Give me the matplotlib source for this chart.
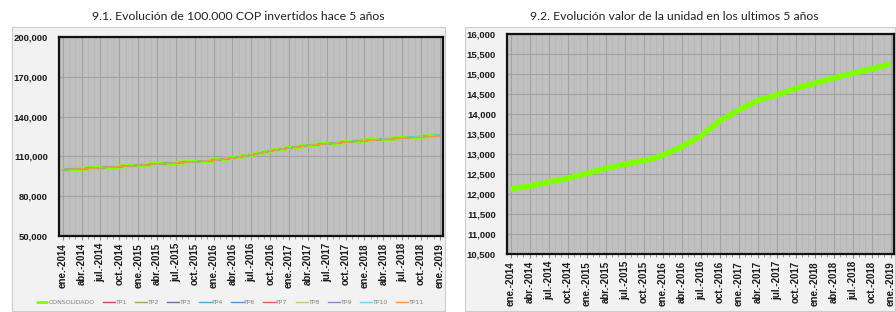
import matplotlib
matplotlib.use('Agg')
from matplotlib import pyplot as plt
from matplotlib.patches import Rectangle
from matplotlib.ticker import FuncFormatter, MultipleLocator

# etiquetas trimestrales del eje x
tick_labels = ['ene.-2014', 'abr.-2014', 'jul.-2014', 'oct.-2014',
               'ene.-2015', 'abr.-2015', 'jul.-2015', 'oct.-2015',
               'ene.-2016', 'abr.-2016', 'jul.-2016', 'oct.-2016',
               'ene.-2017', 'abr.-2017', 'jul.-2017', 'oct.-2017',
               'ene.-2018', 'abr.-2018', 'jul.-2018', 'oct.-2018',
               'ene.-2019']

# 9.1 - valor de 100.000 COP (mensual, ene-2014 .. ene-2019)
consolidado = [100000, 100250, 100450, 100660, 100950, 101200, 101490, 101730, 101980, 102270, 102600, 102930,
               103260, 103630, 103960, 104290, 104580, 104870, 105160, 105400, 105650, 105900, 106190, 106560,
               107010, 107590, 108170, 108750, 109490, 110230, 110970, 112050, 113040, 114110, 114850, 115590,
               116340, 117000, 117660, 118320, 118730, 119060, 119470, 119880, 120340, 120790, 121160, 121490,
               121860, 122240, 122610, 122940, 123270, 123600, 123930, 124220, 124550, 124830, 125160, 125500,
               125820]

# portafolios TP (trimestral)
tp_base = [100000, 100660, 101490, 102270, 103260, 104290, 105160, 105900, 107010, 108750, 110970,
           114110, 116340, 118320, 119470, 120790, 121860, 122940, 123930, 124830, 125820]
tp_alto = [100000, 100660, 101490, 102270, 103260, 104290, 105160, 105900, 107010, 108750, 110970,
           114110, 116340, 118320, 119470, 120850, 121950, 123050, 124100, 125100, 126300]
tp11 = [100000, 100660, 101490, 102270, 103260, 104290, 105160, 105900, 107010, 108750, 110970,
        114110, 116340, 118320, 119470, 120700, 121750, 122750, 123700, 124500, 125200]

tp_nombres = ['TP1', 'TP2', 'TP3', 'TP4', 'TP6', 'TP7', 'TP8', 'TP9', 'TP10', 'TP11']
tp_colores = ['#c0504d', '#8eac5a', '#8064a2', '#4bacc6', '#5b8fd6', '#e0605a', '#b3d27a', '#a37dc4', '#6fd0e8', '#f79646']
tp_datos = [tp_base, tp_base, tp_base, tp_alto, tp_base, tp_base, tp_base, tp_base, tp_alto, tp11]

# 9.2 - valor de la unidad (mensual)
unidad = [12120, 12150, 12175, 12200, 12235, 12265, 12300, 12330, 12360, 12395, 12435, 12475,
          12515, 12560, 12600, 12640, 12675, 12710, 12745, 12775, 12805, 12835, 12870, 12915,
          12970, 13040, 13110, 13180, 13270, 13360, 13450, 13580, 13700, 13830, 13920, 14010,
          14100, 14180, 14260, 14340, 14390, 14430, 14480, 14530, 14585, 14640, 14685, 14725,
          14770, 14815, 14860, 14900, 14940, 14980, 15020, 15055, 15095, 15130, 15170, 15210,
          15250]

W, H = 896, 312
fig = plt.figure(figsize=(W / 100, H / 100), dpi=100)
fig.patch.set_facecolor('white')


def box(x0, y0, x1, y1):
    # x, y en pixeles desde arriba-izquierda
    fig.patches.append(Rectangle((x0 / W, 1 - y1 / H), (x1 - x0) / W, (y1 - y0) / H,
                                 transform=fig.transFigure, facecolor='#f2f2f2',
                                 edgecolor='#cccccc', linewidth=0.8, zorder=-10))


def make_ax(x0, y0, x1, y1):
    return fig.add_axes([x0 / W, 1 - y1 / H, (x1 - x0) / W, (y1 - y0) / H])


def estilo(ax):
    ax.set_facecolor('#c0c0c0')
    for s in ax.spines.values():
        s.set_color('#111111')
        s.set_linewidth(1.6)
    ax.set_xlim(-0.6, 60.5)
    ax.set_xticks(range(0, 61, 3))
    ax.set_xticklabels(tick_labels, rotation=90, fontsize=7, fontweight='bold',
                       family='Liberation Sans', color='#1a1a1a')
    ax.xaxis.set_minor_locator(MultipleLocator(1))
    ax.grid(True, which='major', color='#a2a2a2', linewidth=0.8)
    ax.grid(True, which='minor', axis='x', color='#b6b6b6', linewidth=0.6)
    ax.tick_params(axis='x', which='major', length=3, color='#888888', pad=2)
    ax.tick_params(axis='x', which='minor', length=2, color='#888888')
    ax.tick_params(axis='y', length=0, pad=8)
    ax.yaxis.set_major_formatter(FuncFormatter(lambda v, p: '{:,.0f}'.format(v)))
    for t in ax.get_yticklabels():
        t.set_fontsize(6.8)
        t.set_fontweight('bold')
        t.set_family('Liberation Sans')
        t.set_color('#1a1a1a')
    ax.set_axisbelow(True)


# panel izquierdo
box(12, 27, 445, 311)
fig.text(238 / W, 1 - 16 / H, '9.1. Evolución de 100.000 COP invertidos hace 5 años',
         ha='center', va='center', fontsize=8.8, family='Lato', color='#222222')
ax1 = make_ax(59, 37, 443, 236)
meses = list(range(len(consolidado)))
trim = list(range(0, 61, 3))
ax1.plot(meses, consolidado, color='#80ff00', linewidth=3.0, label='CONSOLIDADO', solid_capstyle='butt')
for nom, col, dat in zip(tp_nombres, tp_colores, tp_datos):
    ax1.plot(trim, dat, color=col, linewidth=0.9, label=nom)
ax1.set_ylim(50000, 200000)
ax1.set_yticks(range(50000, 200001, 30000))
estilo(ax1)

leg = fig.legend(*ax1.get_legend_handles_labels(), loc='center', bbox_to_anchor=(230 / W, 1 - 302 / H),
                 ncol=11, frameon=False, handlelength=2.0, handletextpad=0.1,
                 columnspacing=1.3, prop={'family': 'Liberation Sans Narrow', 'size': 4.4})
for t in leg.get_texts():
    t.set_color('#7f7f7f')
for l in leg.get_lines()[1:]:
    l.set_linewidth(1.0)
leg.get_lines()[0].set_linewidth(2.0)

# panel derecho
box(465, 27, 895, 311)
fig.text(674 / W, 1 - 16 / H, '9.2. Evolución valor de la unidad en los ultimos 5 años',
         ha='center', va='center', fontsize=8.8, family='Lato', color='#222222')
ax2 = make_ax(507, 34, 894, 254)
ax2.plot(meses, unidad, color='#80ff00', linewidth=4.0, solid_capstyle='butt')
ax2.set_ylim(10500, 16000)
ax2.set_yticks(range(10500, 16001, 500))
estilo(ax2)

fig.savefig('out.png', dpi=100)
